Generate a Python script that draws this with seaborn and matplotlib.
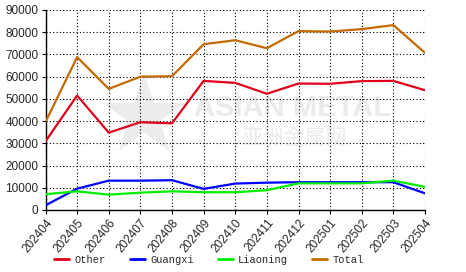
import matplotlib
matplotlib.use("Agg")
import matplotlib.pyplot as plt
import seaborn as sns
import pandas as pd
from matplotlib.lines import Line2D

months = ["202404", "202405", "202406", "202407", "202408", "202409", "202410",
          "202411", "202412", "202501", "202502", "202503", "202504"]
other = [30900, 51500, 34800, 39500, 39000, 58100, 57200, 52300, 56900, 56800, 58000, 58100, 53900]
guangxi = [2100, 9600, 13200, 13200, 13400, 9500, 11900, 12300, 12500, 12500, 12500, 12500, 7500]
liaoning = [7100, 8400, 6900, 7800, 8400, 8000, 8000, 8900, 12000, 12000, 12000, 13200, 10400]
total = [39600, 68800, 54500, 60000, 60200, 74600, 76400, 72800, 80500, 80300, 81400, 83200, 70700]

series = {"Other": other, "Guangxi": guangxi, "Liaoning": liaoning, "Total": total}
colors = {"Other": "#e0001b", "Guangxi": "#0000ff", "Liaoning": "#00ee00", "Total": "#c46a00"}

rows = []
for name, vals in series.items():
    for i, (m, v) in enumerate(zip(months, vals)):
        rows.append({"month": m, "idx": i, "value": v, "series": name})
df = pd.DataFrame(rows)

sns.set_style("white")
plt.rcParams['font.family'] = ['Liberation Sans', 'Noto Sans CJK SC', 'DejaVu Sans']

fig = plt.figure(figsize=(4.66, 2.72), dpi=100)
ax = fig.add_axes([45.5 / 466, 1 - 210 / 272, (425 - 45.5) / 466, 200 / 272])

# watermark (logo star drawn as a marker, texts faint)
ax.plot([0.26], [0.47], marker="*", markersize=62, color="#ececec", markeredgewidth=0,
        transform=ax.transAxes, zorder=0, clip_on=False)
ax.text(0.65, 0.51, "ASIAN METAL", transform=ax.transAxes, fontsize=21, fontweight="bold",
        color="#ebebeb", ha="center", va="center", zorder=0)
ax.text(0.655, 0.36, "亚洲金属网", transform=ax.transAxes, fontsize=15,
        color="#ebebeb", ha="center", va="center", zorder=0,
        family=['Noto Sans CJK SC', 'DejaVu Sans'])

sns.lineplot(data=df, x="idx", y="value", hue="series", palette=colors, ax=ax,
             linewidth=1.6, legend=False, zorder=3)

ax.set_xlim(0, len(months) - 1)
ax.set_ylim(0, 90000)
ax.set_xticks(range(len(months)))
ax.set_xticklabels(months, rotation=50, ha="right", rotation_mode="anchor", fontsize=8.5)
ax.set_yticks(range(0, 90001, 10000))
ax.set_yticklabels([str(v) for v in range(0, 90001, 10000)], fontsize=8.5)
ax.set_xlabel("")
ax.set_ylabel("")
ax.grid(True, color="black", linestyle=(0, (1, 2)), linewidth=0.8)
ax.set_axisbelow(True)
for s in ["top", "right"]:
    ax.spines[s].set_visible(False)
for s in ["left", "bottom"]:
    ax.spines[s].set_color("black")
    ax.spines[s].set_linewidth(1.0)
ax.tick_params(axis="both", direction="out", length=3, width=0.8, color="black", pad=2,
               left=True, bottom=True)

handles = [Line2D([0], [0], color=colors[n], lw=2) for n in series]
leg = fig.legend(handles, list(series.keys()), loc="lower left", bbox_to_anchor=(46 / 466, -0.005),
                 ncol=4, frameon=False, handlelength=1.45, handletextpad=0.5, columnspacing=2.3,
                 borderpad=0.3, prop={"family": "Liberation Mono", "size": 7.5})

fig.savefig("out.png", dpi=100)
